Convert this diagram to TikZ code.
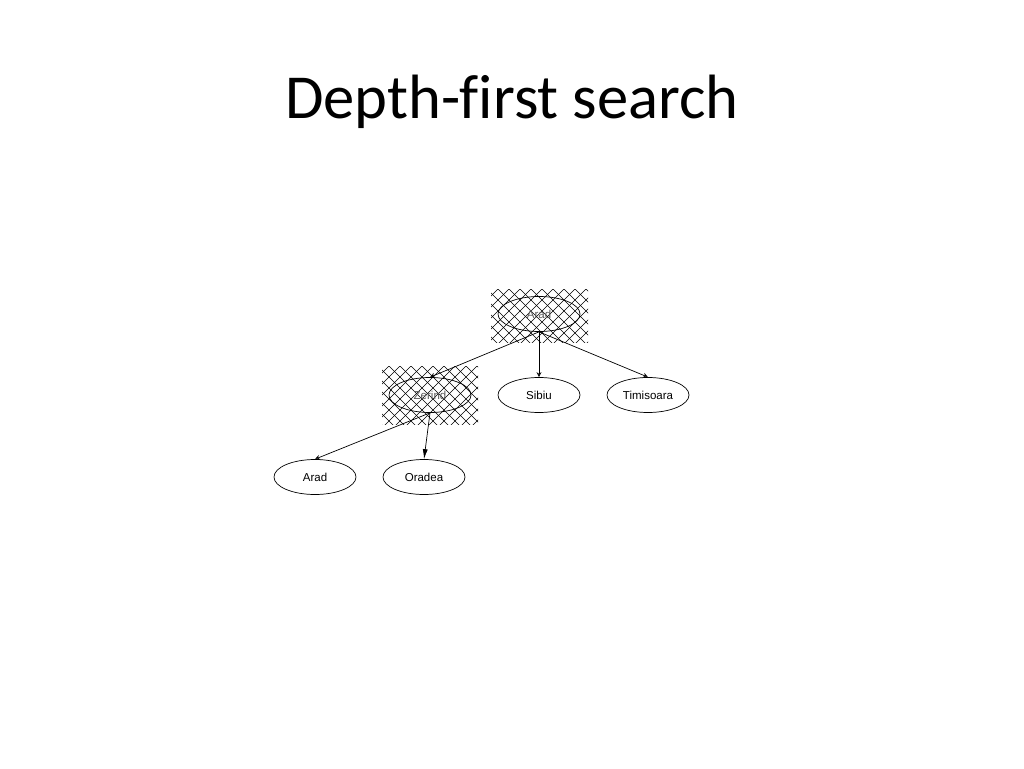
\documentclass[tikz,border=0pt]{standalone}
\usepackage{fontspec}
\setmainfont{Carlito}[Ligatures=NoCommon]
\newfontfamily\labelfont{Liberation Sans}
\usetikzlibrary{shapes.geometric,arrows.meta}
\tikzset{
  statenode/.style={draw=black, line width=0.7pt, ellipse, minimum width=82pt, minimum height=35pt, inner sep=0pt, font=\labelfont\fontsize{11.5}{13}\selectfont},
  visited/.style={statenode, text=black!65},
  edgeline/.style={draw=black, line width=0.7pt},
  opentip/.style={edgeline, -{Stealth[open,length=5pt,width=5pt]}},
  filledtip/.style={edgeline, -{Latex[length=10pt,width=5pt]}},
  hatchline/.style={draw=black, line width=0.55pt}
}
\newcommand{\hatchrect}[4]{%
  \begin{scope}
    \clip (#1,#2) rectangle (#3,#4);
    \foreach \k in {-70,-59,...,170} {
      \draw[hatchline] (#1+\k,#2) -- ++(70,70);
      \draw[hatchline] (#1+\k,#2) -- ++(-70,70);
    }
  \end{scope}}
\begin{document}
\begin{tikzpicture}[x=1pt,y=-1pt]
  \useasboundingbox[fill=white] (0,0) rectangle (1024,768);
  \node[anchor=base, font=\fontsize{62.6}{70}\selectfont] (title) at (512,118) {Depth-first search};
  % hatched backgrounds
  \hatchrect{491}{289}{588}{342}
  \hatchrect{382}{366}{478}{424}
  % nodes
  \node[visited] (arad1) at (539,314) {Arad};
  \node[visited] (zerind) at (430,395) {Zerind};
  \node[statenode] (sibiu) at (539,395) {Sibiu};
  \node[statenode] (timisoara) at (648,395) {Timisoara};
  \node[statenode] (arad2) at (315,477) {Arad};
  \node[statenode] (oradea) at (424,477) {Oradea};
  % edges
  \draw[opentip] (arad1.south) -- (zerind.north);
  \draw[opentip] (arad1.south) -- (sibiu.north);
  \draw[opentip] (arad1.south) -- (timisoara.north);
  \draw[opentip] (zerind.south) -- (arad2.north);
  \draw[filledtip] (zerind.south) -- (oradea.north);
\end{tikzpicture}
\end{document}
